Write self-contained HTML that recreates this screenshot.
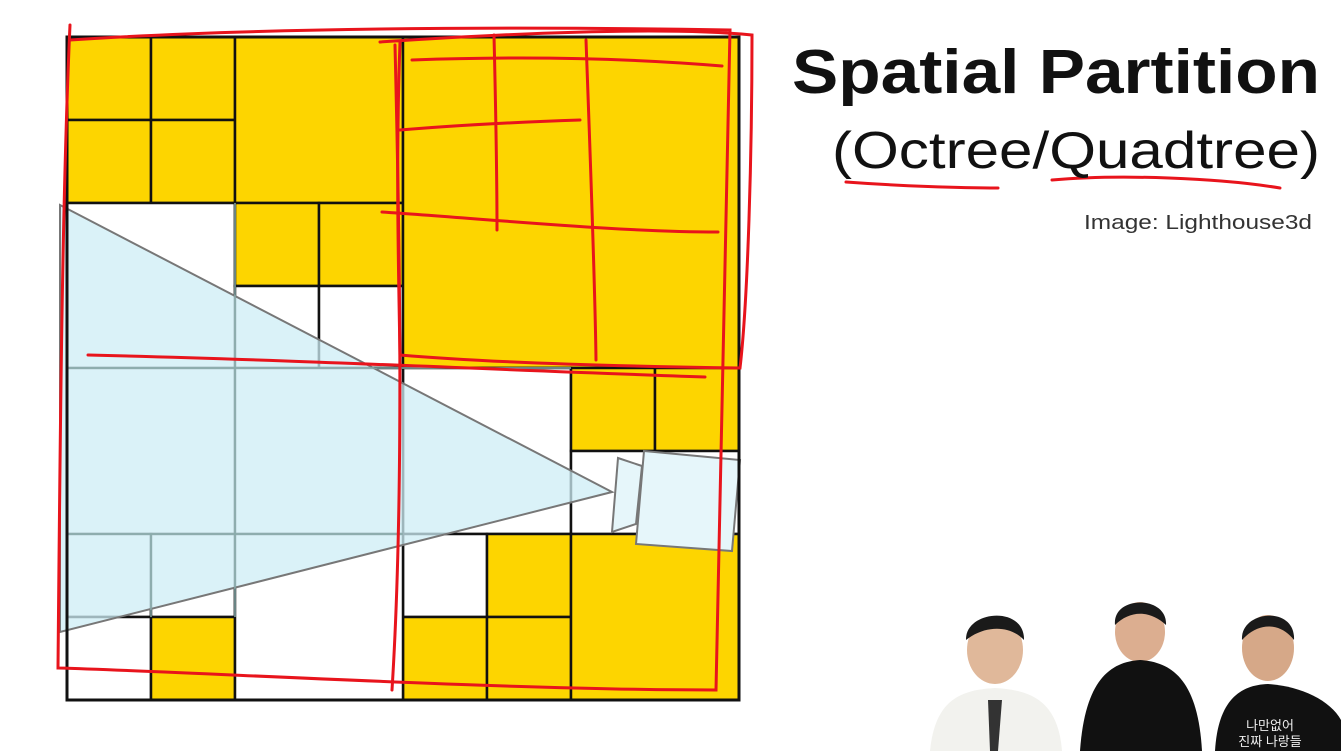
<!DOCTYPE html>
<html><head><meta charset="utf-8"><style>
html,body{margin:0;padding:0;background:#fff;width:1341px;height:751px;overflow:hidden}
svg{display:block}
</style></head><body>
<svg width="1341" height="751" viewBox="0 0 1341 751">
<rect width="1341" height="751" fill="#fff"/>
<g id="qt"></g>
<g fill="none" stroke="#e8141c" stroke-width="3" stroke-linecap="round">
<path d="M70 25 C62 200 60 450 58 668 C200 672 500 690 716 690 C722 500 726 300 730 30 C500 26 250 28 70 40"/>
<path d="M395 45 C400 250 404 500 392 690"/>
<path d="M88 355 C300 360 500 370 705 377"/>
<path d="M380 42 C560 30 680 28 752 35 C752 150 748 300 740 368 C600 366 480 362 400 355 C398 250 396 150 400 42"/>
<path d="M494 35 C496 120 497 190 497 230"/>
<path d="M586 40 C590 150 595 280 596 360"/>
<path d="M400 130 C460 125 520 122 580 120"/>
<path d="M382 212 C500 220 620 232 718 232"/>
<path d="M412 60 C550 55 650 60 722 66"/>
<path d="M846 182 C900 186 960 188 998 188"/>
<path d="M1052 180 C1120 174 1220 178 1280 188"/>
</g>
<text x="792" y="93" textLength="528" lengthAdjust="spacingAndGlyphs" font-family="Liberation Sans, sans-serif" font-weight="bold" font-size="62" fill="#111">Spatial Partition</text>
<text x="832" y="168" textLength="488" lengthAdjust="spacingAndGlyphs" font-family="Liberation Sans, sans-serif" font-size="52" fill="#111">(Octree/Quadtree)</text>
<text x="1084" y="229" textLength="228" lengthAdjust="spacingAndGlyphs" font-family="Liberation Sans, sans-serif" font-size="20" fill="#333">Image: Lighthouse3d</text>
<g>
<g><ellipse cx="995" cy="650" rx="28" ry="34" fill="#e0b89a"/><path d="M966 640 C965 610 1025 605 1024 640 C1010 625 985 625 966 640Z" fill="#1a1a1a"/><path d="M930 751 C935 700 960 690 995 688 C1030 690 1058 700 1062 751Z" fill="#f2f2ee"/><path d="M988 700 L1002 700 L998 751 L990 751Z" fill="#333"/></g>
<g><ellipse cx="1140" cy="632" rx="25" ry="30" fill="#dcae90"/><path d="M1115 625 C1112 595 1168 595 1166 625 C1150 610 1130 610 1115 625Z" fill="#1a1a1a"/><path d="M1080 751 C1085 680 1110 662 1140 660 C1172 662 1198 680 1202 751Z" fill="#111"/></g>
<g><ellipse cx="1268" cy="648" rx="26" ry="33" fill="#d6a888"/><path d="M1242 640 C1240 610 1296 605 1294 640 C1280 622 1258 622 1242 640Z" fill="#1a1a1a"/><path d="M1215 751 C1218 700 1240 685 1268 684 C1300 686 1330 700 1341 720 L1341 751Z" fill="#111"/><text x="1270" y="730" text-anchor="middle" font-family="Liberation Sans, Noto Sans CJK KR, sans-serif" font-size="13" fill="#eee">나만없어</text><text x="1270" y="746" text-anchor="middle" font-family="Liberation Sans, Noto Sans CJK KR, sans-serif" font-size="13" fill="#eee">진짜 나랑들</text></g>
</g>
</svg>
<script>
const cols=[67,151,235,319,403,487,571,655,739];
const rows=[37,120,203,286,368,451,534,617,700];
const cells=[
[0,0,1,1,'y'],[1,0,2,1,'y'],[0,1,1,2,'y'],[1,1,2,2,'y'],[2,0,4,2,'y'],
[0,2,2,4,'w'],[2,2,3,3,'y'],[3,2,4,3,'y'],[2,3,3,4,'w'],[3,3,4,4,'w'],
[4,0,8,4,'y'],
[4,4,6,6,'w'],[6,4,7,5,'y'],[7,4,8,5,'y'],[6,5,8,6,'w'],
[4,6,5,7,'w'],[5,6,6,7,'y'],[4,7,5,8,'y'],[5,7,6,8,'y'],[6,6,8,8,'y'],
[0,4,2,6,'w'],[2,4,4,6,'w'],[0,6,1,7,'w'],[1,6,2,7,'w'],[0,7,1,8,'w'],[1,7,2,8,'y'],[2,6,4,8,'w']
];
const NS='http://www.w3.org/2000/svg';
const g=document.getElementById('qt');
function mk(t,a){const e=document.createElementNS(NS,t);for(const k in a)e.setAttribute(k,a[k]);g.appendChild(e);return e;}
cells.forEach(c=>{
 const e=mk('rect',{x:cols[c[0]],y:rows[c[1]],width:cols[c[2]]-cols[c[0]],height:rows[c[3]]-rows[c[1]],fill:c[4]=='y'?'#fdd500':'#ffffff',stroke:'#111','stroke-width':2.5});
 
 
});
const tri=mk('polygon',{points:'612,492 60,205 60,632',fill:'#cdeef5','fill-opacity':0.75,stroke:'#777','stroke-width':2});


[[235,203,235,617],[67,368,571,368],[67,534,403,534],[151,534,151,617]].forEach(l=>{
 const e=mk('line',{x1:l[0],y1:l[1],x2:l[2],y2:l[3],stroke:'#8aa','stroke-width':1.5});
 
 
});
const cam1=mk('polygon',{points:'618,458 642,466 636,524 612,532',fill:'#e6f6fa',stroke:'#777','stroke-width':2});


const cam2=mk('polygon',{points:'644,451 740,460 732,551 636,544',fill:'#e6f6fa',stroke:'#777','stroke-width':2});


const o=mk('rect',{x:67,y:37,width:672,height:663,fill:'none',stroke:'#111','stroke-width':3});


</script>
</body></html>
